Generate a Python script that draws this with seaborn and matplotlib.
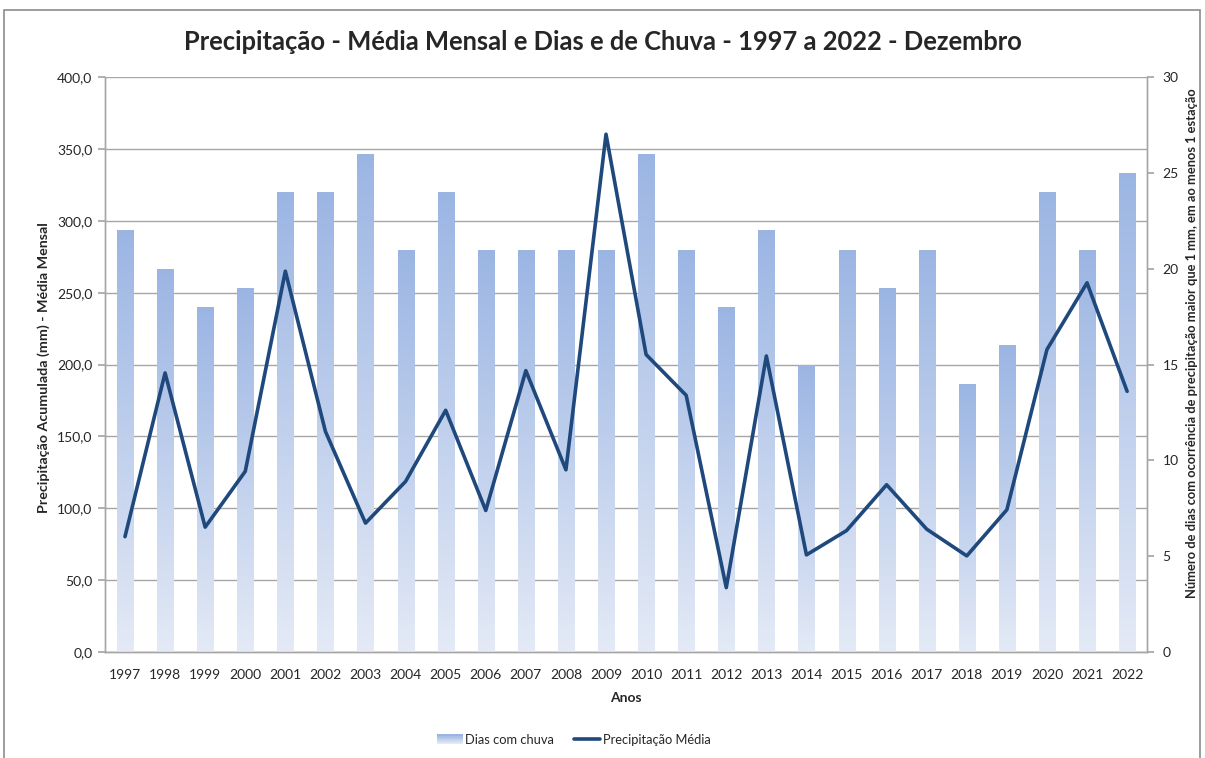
import matplotlib
matplotlib.use("Agg")
import matplotlib.pyplot as plt
import seaborn as sns
import numpy as np
import pandas as pd
from matplotlib.colors import LinearSegmentedColormap
from matplotlib.patches import Rectangle
from matplotlib.lines import Line2D
from matplotlib.legend_handler import HandlerBase

anos = [str(a) for a in range(1997, 2023)]
dias_chuva = [22, 20, 18, 19, 24, 24, 26, 21, 24, 21, 21, 21, 21, 26, 21, 18,
              22, 15, 21, 19, 21, 14, 16, 24, 21, 25]
precip_media = [80.3, 194.2, 86.9, 125.7, 265.0, 153.5, 89.7, 118.7, 168.2, 98.5,
                195.8, 126.8, 360.3, 207.0, 178.6, 44.8, 206.0, 67.6, 84.5, 116.4,
                85.5, 66.9, 99.0, 210.5, 256.9, 181.4]

df = pd.DataFrame({"ano": anos, "dias": dias_chuva, "precip": precip_media})
df["pos"] = np.arange(len(df))

sns.set_theme(style="white")
plt.rcParams["font.family"] = ["Lato", "DejaVu Sans"]

COR_LINHA = "#1F497D"
COR_GRID = "#A6A6A6"
grad_cmap = LinearSegmentedColormap.from_list("grad", ["#E4EAF6", "#9BB5E3"])

fig = plt.figure(figsize=(12.05, 7.58), dpi=100)
ax = fig.add_axes([0.0871, 0.1398, 0.8649, 0.7584])

# primary axis: left scale (mm) with gridlines
ax.set_ylim(0, 400)
ax.set_yticks(np.arange(0, 401, 50))
ax.set_yticklabels([f"{v:.1f}".replace(".", ",") for v in np.arange(0, 401, 50)], fontsize=10)
ax.grid(axis="y", color=COR_GRID, linewidth=1)
ax.set_axisbelow(True)

# bars on the right scale
ax2 = ax.twinx()
sns.barplot(data=df, x="pos", y="dias", ax=ax2, width=0.4, color="#9BB5E3",
            native_scale=True, edgecolor="none")
grad = np.linspace(0, 1, 256).reshape(-1, 1)
for p in list(ax2.patches):
    x0, y0 = p.get_x(), p.get_y()
    w, h = p.get_width(), p.get_height()
    p.set_facecolor("none")
    im = ax2.imshow(grad, extent=[x0, x0 + w, y0, y0 + h], origin="lower",
                    aspect="auto", cmap=grad_cmap, zorder=2)
    im.set_clip_path(p)
ax2.set_ylim(0, 30)
ax2.set_yticks(np.arange(0, 31, 5))
ax2.set_yticklabels([str(v) for v in range(0, 31, 5)], fontsize=10)
ax2.set_ylabel("Número de dias com ocorrência de precipitação maior que 1 mm, em ao menos 1 estação",
               fontsize=9.3, fontweight="bold")
ax2.yaxis.set_label_coords(1.037, 0.5365)

# line on the left scale, drawn on top
ax3 = ax.twinx()
sns.lineplot(data=df, x="pos", y="precip", ax=ax3, color=COR_LINHA, linewidth=2.6)
ax3.set_ylim(0, 400)
ax3.set_yticks([])
ax3.set_ylabel("")
for s in ax3.spines.values():
    s.set_visible(False)

# x axis: labels at centers, ticks at boundaries
ax.set_xlim(-0.5, len(df) - 0.5)
ax.set_xticks(np.arange(len(df)))
ax.set_xticklabels(anos, fontsize=10)
ax.set_xticks(np.arange(-0.5, len(df) + 0.5, 1), minor=True)
ax.tick_params(axis="x", which="major", length=0, pad=12)
ax.tick_params(axis="x", which="minor", length=5, color=COR_GRID, width=1, direction="out")
ax.tick_params(axis="y", length=5, color=COR_GRID, direction="out", left=True, pad=4)
ax2.tick_params(axis="y", length=5, color=COR_GRID, direction="out", right=True, pad=6)
ax.set_xlabel("Anos", fontsize=10, fontweight="bold", labelpad=8)
ax.set_ylabel("Precipitação Acumulada (mm) - Média Mensal", fontsize=10.3, fontweight="bold")
ax.yaxis.set_label_coords(-0.053, 0.494)

for a in (ax, ax2):
    a.spines["top"].set_visible(False)
    for k in ("left", "right", "bottom"):
        a.spines[k].set_color(COR_GRID)
        a.spines[k].set_linewidth(1)

fig.suptitle("Precipitação - Média Mensal e Dias e de Chuva - 1997 a 2022 - Dezembro",
             x=0.5, y=0.945, fontsize=18.4, fontweight="bold", va="center")

# legend
class GradHandler(HandlerBase):
    def create_artists(self, legend, orig, xd, yd, width, height, fontsize, trans):
        n = 12
        arts = []
        for i in range(n):
            c = grad_cmap(i / (n - 1))
            r = Rectangle((xd, yd + height * i / n), width, height / n + 0.3,
                          facecolor=c, edgecolor="none", transform=trans)
            arts.append(r)
        return arts

bar_handle = Rectangle((0, 0), 1, 1)
line_handle = Line2D([0], [0], color=COR_LINHA, linewidth=2.6)
fig.legend([bar_handle, line_handle], ["Dias com chuva", "Precipitação Média"],
           loc="center", bbox_to_anchor=(0.476, 0.024), ncol=2, frameon=False,
           fontsize=9.3, handlelength=2.0, handletextpad=0.2, columnspacing=1.55,
           handler_map={bar_handle: GradHandler()})

# outer chart border
fig.patches.append(Rectangle((4 / 1205, -0.01), 1196 / 1205, (758 - 10) / 758 + 0.01,
                             transform=fig.transFigure, fill=False,
                             edgecolor="#8C8C8C", linewidth=1.2))

fig.savefig("out.png", dpi=100)
